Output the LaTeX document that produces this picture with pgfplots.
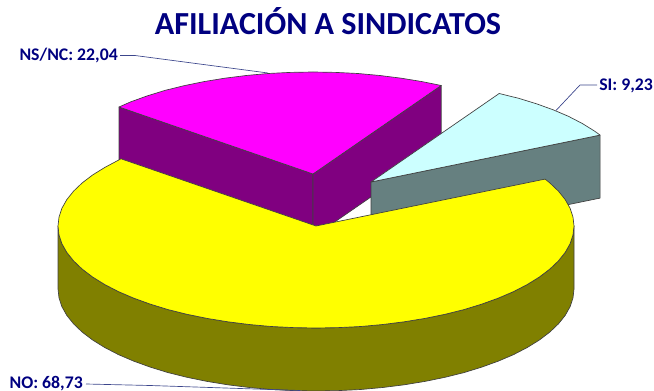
\documentclass[border=0pt]{standalone}
\usepackage{fontspec}
\setmainfont{Carlito}
\usepackage{pgfplots}
\pgfplotsset{compat=1.18}
\definecolor{labelnavy}{RGB}{0,0,128}
\definecolor{leader}{RGB}{60,70,140}
\definecolor{magtop}{RGB}{255,0,255}
\definecolor{magside}{RGB}{128,0,128}
\definecolor{cyantop}{RGB}{204,255,255}
\definecolor{cyanside}{RGB}{102,128,128}
\definecolor{yeltop}{RGB}{255,255,0}
\definecolor{yelside}{RGB}{128,128,0}
\begin{document}
\begin{tikzpicture}
\path[use as bounding box] (0,0) rectangle (490.5pt,293.25pt);
\begin{axis}[
    at={(0,0)}, anchor=south west,
    scale only axis, width=490.5pt, height=293.25pt,
    xmin=0, xmax=654, ymin=0, ymax=391, y dir=reverse,
    hide axis, clip=false,
    every axis plot/.append style={line join=round},
    slice/.style={draw=black!75, line width=0.5pt},
]
% NS/NC 22,04
\addplot[slice, fill=magside] coordinates {(119,107) (313,174) (313,237) (119,170)} -- cycle;
\addplot[slice, fill=magside] coordinates {(313,174) (441.2,85.5) (441.2,148.5) (313,237)} -- cycle;
\addplot[slice, fill=magtop] coordinates {(313,174) (441.2,85.5) (422,81.6) (401.2,78.2) (379.8,75.5) (357.8,73.5) (335.5,72.4) (313,72) (290.5,72.4) (268.2,73.5) (246.2,75.5) (224.8,78.2) (204,81.6) (184,85.7) (165,90.4) (147.2,95.9) (130.6,101.9) (119,107)} -- cycle;
% SI 9,23
\addplot[slice, fill=cyanside] coordinates {(371,182) (600.1,135.1) (600.1,198.1) (371,245)} -- cycle;
\addplot[slice, fill=cyantop] coordinates {(371,182) (600.1,135.1) (594.4,131) (582.3,123.5) (568.6,116.4) (553.4,109.9) (536.8,103.9) (519,98.4) (499.2,93.5)} -- cycle;
% NO 68,73
\addplot[slice, fill=yelside] coordinates {(58,226) (59,234.9) (61.9,243.7) (66.8,252.4) (73.6,260.9) (82.2,269.1) (92.6,277) (104.7,284.5) (118.4,291.6) (133.6,298.1) (150.2,304.1) (168,309.6) (187,314.3) (207,318.4) (227.8,321.8) (249.2,324.5) (271.2,326.5) (293.5,327.6) (316,328) (338.5,327.6) (360.8,326.5) (382.8,324.5) (404.2,321.8) (425,318.4) (445,314.3) (464,309.6) (481.8,304.1) (498.4,298.1) (513.6,291.6) (527.3,284.5) (539.4,277) (549.8,269.1) (558.4,260.9) (565.2,252.4) (570.1,243.7) (573,234.9) (574,226)
  (574,289) (573,297.9) (570.1,306.7) (565.2,315.4) (558.4,323.9) (549.8,332.1) (539.4,340) (527.3,347.5) (513.6,354.6) (498.4,361.1) (481.8,367.1) (464,372.6) (445,377.3) (425,381.4) (404.2,384.8) (382.8,387.5) (360.8,389.5) (338.5,390.6) (316,391) (293.5,390.6) (271.2,389.5) (249.2,387.5) (227.8,384.8) (207,381.4) (187,377.3) (168,372.6) (150.2,367.1) (133.6,361.1) (118.4,354.6) (104.7,347.5) (92.6,340) (82.2,332.1) (73.6,323.9) (66.8,315.4) (61.9,306.7) (59,297.9) (58,289)} -- cycle;
\addplot[slice, fill=yeltop] coordinates {(316,226) (121,158.8) (104.7,167.5) (92.6,175) (82.2,182.9) (73.6,191.1) (66.8,199.6) (61.9,208.3) (59,217.1) (58,226) (59,234.9) (61.9,243.7) (66.8,252.4) (73.6,260.9) (82.2,269.1) (92.6,277) (104.7,284.5) (118.4,291.6) (133.6,298.1) (150.2,304.1) (168,309.6) (187,314.3) (207,318.4) (227.8,321.8) (249.2,324.5) (271.2,326.5) (293.5,327.6) (316,328) (338.5,327.6) (360.8,326.5) (382.8,324.5) (404.2,321.8) (425,318.4) (445,314.3) (464,309.6) (481.8,304.1) (498.4,298.1) (513.6,291.6) (527.3,284.5) (539.4,277) (549.8,269.1) (558.4,260.9) (565.2,252.4) (570.1,243.7) (573,234.9) (574,226) (573,217.1) (570.1,208.3) (565.2,199.6) (558.4,191.1) (549.8,182.9) (545.1,179.1)} -- cycle;
% leader lines
\addplot[leader, line width=0.5pt] coordinates {(120,55.5) (135,55.5) (268,73)};
\addplot[leader, line width=0.5pt] coordinates {(597,85) (580,85) (556,110.5)};
\addplot[leader, line width=0.5pt] coordinates {(86,384) (150,385.5) (300,390.5)};
% labels
\node[font=\bfseries\fontsize{24.1}{27}\selectfont, text=labelnavy, anchor=base] at (axis cs:328,35) {AFILIACIÓN A SINDICATOS};
\node[font=\bfseries\fontsize{13.3}{15}\selectfont, text=labelnavy, anchor=base east, inner sep=0pt] at (axis cs:118,61) {NS/NC: 22,04};
\node[font=\bfseries\fontsize{13.3}{15}\selectfont, text=labelnavy, anchor=base west, inner sep=0pt] at (axis cs:599,91) {SI: 9,23};
\node[font=\bfseries\fontsize{13.3}{15}\selectfont, text=labelnavy, anchor=base east, inner sep=0pt] at (axis cs:83,388.5) {NO: 68,73};
\end{axis}
\end{tikzpicture}
\end{document}
